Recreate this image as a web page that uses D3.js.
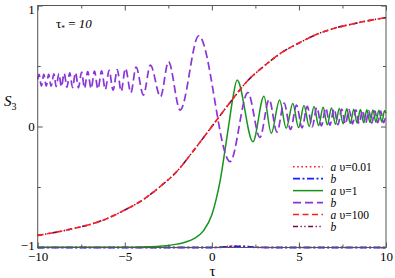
<!DOCTYPE html>
<html><head><meta charset="utf-8">
<script src="https://cdn.jsdelivr.net/npm/d3@7"></script>
<style>
html,body{margin:0;padding:0;background:#fff;}
svg text{font-family:"Liberation Serif","Times New Roman","Nimbus Roman","DejaVu Serif","Liberation Sans",Arial,sans-serif !important;fill:#000;}
</style></head>
<body><svg id="c" width="395" height="278"></svg>
<script>
// ---- data ----
const xTicks = [-10, -5, 0, 5, 10];
const xTickLabels = ["\u221210", "\u22125", "0", "5", "10"];
const xMinor = [-7.5, -2.5, 2.5, 7.5];
const yTicks = [-1, 0, 1];
const yTickLabels = ["\u22121", "0", "1"];
const yMinor = [-0.5, 0.5];

// v = 0.01
const v001a = [[-10,-1],[0,-1],[0.6,-0.997],[1.2,-0.988],[1.8,-0.99],[2.5,-0.998],[3.5,-1],[10,-1]];
const v001b = [[-10,-1],[0,-1],[0.7,-0.996],[1.3,-0.99],[1.9,-0.992],[2.6,-0.999],[3.5,-1],[10,-1]];
// v = 1
const v1a = [[-10,-0.998],[-5,-0.997],[-4,-0.995],[-3,-0.99],[-2,-0.972],[-1.5,-0.955],[-1,-0.925],[-0.5,-0.865],
  [0,-0.73],[0.25,-0.6],[0.5,-0.43],[0.75,-0.2],[1.0,0.04],[1.2,0.23],[1.45,0.385],[2.36,-0.126],[2.99,0.25],
  [3.41,-0.056],[3.89,0.22],[4.27,-0.015],[4.65,0.19],[4.98,-0.009],[5.29,0.174],[5.59,0.001],[5.87,0.165],
  [6.13,0.008],[6.39,0.159],[6.63,0.014],[6.87,0.153],[7.10,0.019],[7.32,0.149],[7.54,0.023],[7.75,0.146],
  [7.95,0.026],[8.15,0.143],[8.34,0.029],[8.53,0.140],[8.72,0.031],[8.90,0.138],[9.08,0.033],[9.25,0.136],
  [9.42,0.035],[9.59,0.134],[9.76,0.037],[9.92,0.132],[10,0.11]];
const v1b = [[-10,0.39],[-9.92,0.43],[-9.79,0.335],[-9.65,0.43],[-9.51,0.335],[-9.37,0.432],[-9.23,0.333],
  [-9.07,0.435],[-8.94,0.33],[-8.78,0.437],[-8.64,0.328],[-8.48,0.44],[-8.32,0.325],[-8.16,0.443],[-8.00,0.322],
  [-7.83,0.446],[-7.66,0.32],[-7.48,0.45],[-7.31,0.316],[-7.13,0.453],[-6.93,0.313],[-6.74,0.457],[-6.54,0.31],
  [-6.33,0.46],[-6.12,0.305],[-5.90,0.465],[-5.67,0.30],[-5.43,0.47],[-5.21,0.29],[-4.96,0.48],[-4.65,0.28],
  [-4.35,0.49],[-3.93,0.26],[-3.53,0.508],[-2.95,0.246],[-2.49,0.535],[-1.82,0.136],[-0.75,0.75],[1.05,-0.29],
  [2.07,0.28],[2.76,-0.09],[3.29,0.223],[3.74,-0.046],[4.15,0.193],[4.52,-0.024],[4.86,0.177],[5.18,-0.011],
  [5.48,0.166],[5.76,-0.002],[6.03,0.158],[6.29,0.005],[6.54,0.152],[6.78,0.011],[7.02,0.147],[7.24,0.015],
  [7.46,0.143],[7.67,0.019],[7.88,0.140],[8.08,0.022],[8.27,0.137],[8.46,0.024],[8.65,0.134],[8.83,0.027],
  [9.01,0.132],[9.19,0.029],[9.36,0.130],[9.53,0.031],[9.70,0.128],[9.86,0.032],[10,0.10]];
// v = 100
const v100a = [[-10,-0.9],[-9,-0.875],[-8,-0.845],[-7,-0.81],[-6,-0.76],[-5,-0.69],[-4,-0.61],[-3,-0.5],[-2,-0.37],
  [-1,-0.19],[0,0],[1,0.19],[2,0.37],[3,0.5],[4,0.61],[5,0.69],[6,0.76],[7,0.81],[8,0.845],[9,0.875],[10,0.9]];
const v100b = [[-10,-0.9],[-9,-0.875],[-8,-0.845],[-7,-0.81],[-6,-0.76],[-5,-0.69],[-4,-0.61],[-3,-0.5],[-2,-0.37],
  [-1,-0.19],[0,0],[1,0.19],[2,0.37],[3,0.5],[4,0.61],[5,0.69],[6,0.76],[7,0.81],[8,0.845],[9,0.875],[10,0.9]];

const legendNames = ["a", "b", "a", "b", "a", "b"];
const legendSpeeds = ["\u03c5=0.01", "", "\u03c5=1", "", "\u03c5=100", ""];

// ---- drawing ----
const series = [
  {d: v001a, color: "#ff1a1a", dash: "1.6,2.6", w: 1.6},
  {d: v001b, color: "#1a1aff", dash: "7,2.5,2,2.5", w: 1.8},
  {d: v1a,   color: "#17941a", dash: null, w: 1.5},
  {d: v1b,   color: "#8a35d6", dash: "8,4", w: 1.7},
  {d: v100a, color: "#ff1e1e", dash: "6,3.5", w: 1.6},
  {d: v100b, color: "#6e0c52", dash: "5,2.5,1.3,2.5,1.3,2.5", w: 1.6}
];
const drawOrder = [0, 1, 2, 3, 5, 4];

const svg = d3.select("#c");
const L = 37.7, R = 386, T = 5.5, B = 247.5;
const x = d3.scaleLinear().domain([-10, 10]).range([L, R]);
const y = d3.scaleLinear().domain([-1, 1]).range([B, T]);

const line = d3.line().x(d => x(d[0])).y(d => y(d[1])).curve(d3.curveMonotoneX);

const g = svg.append("g");
drawOrder.forEach(k => {
  const s = series[k];
  g.append("path").attr("d", line(s.d)).attr("fill", "none")
    .attr("stroke", s.color).attr("stroke-width", s.w)
    .attr("stroke-dasharray", s.dash);
});

// axes
const axCol = "#555";
function styleAxis(sel) {
  sel.attr("font-family", null).attr("font-size", null);
  sel.select(".domain").remove();
  sel.selectAll("line").attr("stroke", axCol).attr("stroke-width", 1);
  sel.selectAll("text").style("font-size", "13px").attr("fill", "#000");
}
svg.append("g").attr("transform", `translate(0,${B})`)
  .call(d3.axisBottom(x).tickValues(xTicks).tickSize(-5).tickPadding(4.5).tickFormat((d,i) => xTickLabels[i]))
  .call(styleAxis);
svg.append("g").attr("transform", `translate(0,${B})`)
  .call(d3.axisBottom(x).tickValues(xMinor).tickSize(-3).tickFormat("")).call(styleAxis);
svg.append("g").attr("transform", `translate(0,${T})`)
  .call(d3.axisTop(x).tickValues(xTicks).tickSize(-5).tickFormat("")).call(styleAxis);
svg.append("g").attr("transform", `translate(0,${T})`)
  .call(d3.axisTop(x).tickValues(xMinor).tickSize(-3).tickFormat("")).call(styleAxis);
const yAx = svg.append("g").attr("transform", `translate(${L},0)`)
  .call(d3.axisLeft(y).tickValues(yTicks).tickSize(-5).tickPadding(3).tickFormat((d,i) => yTickLabels[i]))
  .call(styleAxis);
yAx.selectAll(".tick text").filter(d => d === 1).attr("dy", "0.62em");
yAx.selectAll(".tick text").filter(d => d === -1).attr("dy", "0.12em");
svg.append("g").attr("transform", `translate(${L},0)`)
  .call(d3.axisLeft(y).tickValues(yMinor).tickSize(-3).tickFormat("")).call(styleAxis);
svg.append("g").attr("transform", `translate(${R},0)`)
  .call(d3.axisRight(y).tickValues(yTicks).tickSize(-5).tickFormat("")).call(styleAxis);
svg.append("g").attr("transform", `translate(${R},0)`)
  .call(d3.axisRight(y).tickValues(yMinor).tickSize(-3).tickFormat("")).call(styleAxis);

svg.append("rect").attr("x", L).attr("y", T).attr("width", R - L).attr("height", B - T)
  .attr("fill", "none").attr("stroke", axCol).attr("stroke-width", 1);

// axis titles
svg.append("text").attr("x", 212.5).attr("y", 276).attr("text-anchor", "middle")
  .style("font-size", "15px").text("\u03c4");
const st = svg.append("text").attr("x", 4).attr("y", 106).style("font-size", "15px");
st.append("tspan").style("font-style", "italic").text("S");
st.append("tspan").attr("dy", 4).style("font-size", "10px").text("3");

// tau* annotation
const an = svg.append("text").attr("x", 56).attr("y", 28).style("font-size", "13px");
an.append("tspan").text("\u03c4");
an.append("tspan").attr("dy", 3).style("font-size", "7.5px").text("*");
an.append("tspan").attr("dy", -3).text(" = ");
an.append("tspan").style("font-style", "italic").text("10");

// legend
const ly0 = 166.7, ldy = 11.96;
legendNames.forEach((n, i) => {
  const s = series[i];
  const yy = ly0 + i * ldy;
  svg.append("line").attr("x1", 293).attr("x2", 323).attr("y1", yy).attr("y2", yy)
    .attr("stroke", s.color).attr("stroke-width", s.w).attr("stroke-dasharray", s.dash);
  svg.append("text").attr("x", 330.5).attr("y", yy + 4).style("font-size", "11.5px")
    .style("font-style", "italic").text(n);
  if (legendSpeeds[i]) {
    svg.append("text").attr("x", 339.5).attr("y", yy + 4).style("font-size", "11.5px").text(legendSpeeds[i]);
  }
});
</script></body></html>
